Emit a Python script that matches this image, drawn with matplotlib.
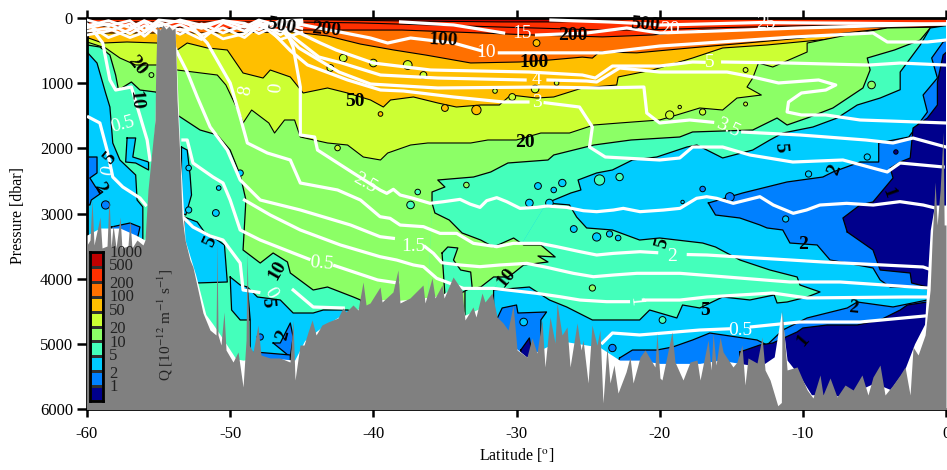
import numpy as np
import matplotlib
matplotlib.use("Agg")
import matplotlib.pyplot as plt

plt.rcParams['font.family'] = ['Liberation Serif', 'DejaVu Serif']
plt.rcParams['mathtext.fontset'] = 'stix'
plt.rcParams['axes.unicode_minus'] = False

nan = np.nan

# class colours, lowest to highest
class_colors = ['#00008c', '#0080ff', '#00ccff', '#44ffbb', '#8cff66',
                '#ccff33', '#ffbf00', '#ff7000', '#ff3000', '#c00000']
NAVY, BLUE, CYAN, MINT, GREEN, LIME, AMBER, ORANGE, RED, DARK = class_colors
bar_labels = ['1', '2', '5', '10', '20', '50', '100', '200', '500', '1000']
bar_label_y = [387, 374, 356, 343, 329, 311, 297, 284, 266, 253]

# depth of the Q isolines, upper ocean
q1000_lat = [-60, -48, -38, -31, -27, -21, 0]
q1000_p = [0, 15, 45, 60, 60, 15, 0]
q500_lat = [-60, -46, -41, -34, -28.5, -24, -21, -17, -10, 0]
q500_p = [60, 60, 75, 120, 155, 185, 185, 155, 120, 105]
q200_lat = [-60, -46, -38, -32.5, -29, -24, -20.5, -17, -10, -4, 0]
q200_p = [120, 185, 185, 230, 260, 290, 260, 185, 155, 140, 140]
q100_lat = [-60, -52.1, -45.6, -43.2, -40.9, -38.6, -36.3, -33.2, -29.8, -27.7, -25.4, -24.7, -24.2, -21.6, -17.9, -14, -10.2, -4, 0]
q100_p = [230, 230, 215, 275, 400, 490, 570, 690, 675, 645, 600, 615, 520, 535, 460, 385, 310, 155, 140]
q50_lat = [-59.9, -58.9, -57.2, -55.1, -53.7, -53, -51.6, -50.2, -49.1, -47.7, -47.2, -45.8, -44.9, -43.2, -41.8, -40.2, -39.3, -38.8, -37.2, -35.5, -34.2, -32.5, -31.2, -30.4, -28.6, -27.4, -25.4, -23, -22.9, -20.5, -17.7, -15.6, -12.5, -7.4, -4.1, 0]
q50_p = [307, 384, 368, 384, 491, 384, 460, 491, 844, 921, 798, 905, 1151, 1074, 1151, 1258, 1366, 1258, 1212, 1304, 1366, 1335, 1335, 1182, 1228, 1212, 1074, 1028, 905, 798, 614, 460, 414, 307, 153, 138]
q20_lat = [-60, -58.7, -57.7, -56.6, -55.1, -53.7, -50.9, -50.3, -49.3, -49.1, -48.5, -47.3, -46.9, -46.2, -45.5, -45.1, -43.2, -41.8, -40.7, -39.5, -39, -37.4, -36.2, -34.6, -33.2, -32, -30, -28.3, -26.3, -24.6, -22.8, -20, -18.8, -17.2, -15.6, -14.6, -12.9, -13.9, -13.5, -13.1, -12.1, -9.7, -9.7, -6.9, -4.1, 0]
q20_p = [368, 460, 614, 721, 721, 798, 875, 1028, 1488, 1611, 1412, 1611, 1765, 1565, 1565, 1826, 1918, 1949, 2133, 2179, 2072, 1949, 1918, 1918, 1918, 1872, 1872, 1765, 1765, 1642, 1611, 1565, 1488, 1381, 1412, 1228, 1182, 1059, 921, 691, 752, 522, 384, 261, 153, 138]
q10w_lat = [-60, -59.1, -58.4, -58, -57.8, -56.9, -56.3, -55.2, -53.7, -52.1, -50.9, -50, -49.3, -48.9, -49.1, -47.9, -47, -46, -45.8, -44.2, -43.2, -41.4, -40.9, -40]
q10w_p = [414, 445, 568, 875, 1105, 982, 1105, 1136, 1488, 1719, 1795, 2026, 2409, 2793, 3560, 3760, 3606, 3744, 3913, 4174, 4128, 4281, 4327, 4941]
q10e_lat = [-36.3, -35.9, -35.9, -35, -35.5, -33, -31.8, -30.6, -27.8, -27.4, -24.6, -22, -18.6, -17.7, -13.5, -11.8, -11.1, -9.7, -7.9, -5.8, -5.3, -5.5, -3.6, -1.8, -1.1, 0]
q10e_p = [4941, 2839, 2670, 2593, 2486, 2440, 2363, 2225, 2179, 2102, 1949, 1872, 1826, 1749, 1719, 1535, 1642, 1535, 1381, 1074, 798, 614, 491, 338, 153, 138]

# lens of 10-20 water south of the eastern tongue
lens_lat = [-35.9, -35.7, -34.7, -33.8, -32.5, -31.6, -30.2, -29.5, -28.3, -27.3, -28.5, -27.8, -29.5, -30.2, -30.6, -31.6, -32.5, -33.6, -33.6, -36.3]
lens_p = [2839, 2992, 3100, 3299, 3407, 3514, 3376, 3483, 3483, 3667, 3652, 3744, 3790, 3913, 3974, 3974, 4128, 4174, 4941, 4941]
mint_patch_lat = [-35.2, -34.8, -34.1, -34.4, -33.9, -33.2, -33.1, -34.1, -35, -35.2]
mint_patch_p = [3606, 3514, 3529, 3714, 3867, 3898, 4128, 4250, 4250, 3606]

# low Q water in the east
cyan_upper_lat = [-27.9, -26.2, -25.5, -25.7, -24.4, -23.3, -23.3, -21.9, -20.2, -18.1, -17.4, -15.6, -13.5, -12.3, -11.4, -9.3, -7.6, -6.2, -4.6, -3.2, -3.2, -1.8, -1.1, 0.2, 0.2, -31.6, -31.6]
cyan_upper_p = [2839, 2685, 2639, 2486, 2378, 2332, 2332, 2179, 2133, 1980, 1949, 2148, 2026, 1872, 1765, 1673, 1535, 1335, 1228, 1100, 829, 414, 153, 110, 6000, 6000, 4174]
tongue_lat = [-27.9, -26.3, -25.8, -25.1, -23.3, -21.4, -20, -17, -16.1, -14.4, -12.3, -10.4, -10.2, -8.8, -9.7, -11.1, -11.8, -12, -13.7, -15.6, -17.2, -18.4, -18.8, -20.7, -21.4, -23.3, -24.7, -26.5, -27.7, -29.1, -31.6]
tongue_p = [2839, 2869, 3054, 3222, 3253, 3407, 3376, 3453, 3514, 3713, 3867, 3974, 4097, 4204, 4281, 4358, 4373, 4250, 4327, 4281, 4450, 4404, 4603, 4481, 4634, 4634, 4634, 4434, 4327, 4128, 4174]
blue_upper_lat = [-16.6, -14.2, -11.1, -8.6, -7.9, -6, -4.7, -4.7, -2.6, -1.3, -1.6, -0.6, -1, -0.2, 0.2, 0.2, -1.3, -2.5, -3.9, -4.6, -5.1, -8.1, -9, -10.9, -11.4, -12.5, -13, -14.4, -16.1, -16.6]
blue_upper_p = [2839, 2685, 2516, 2440, 2363, 2210, 2210, 1918, 1826, 1443, 1182, 921, 614, 368, 338, 4204, 4158, 4128, 4128, 4020, 3836, 3713, 3483, 3453, 3253, 3222, 3176, 3069, 3023, 2839]
navy_upper_lat = [-6.9, -7.2, -6, -5.1, -3.7, -3.9, -3.2, -2.5, -2.3, -1.3, -0.6, -0.6, -0.2, 0.2, 0.2, -1.3, -2.4, -2.5, -4.6, -5.1, -6.9]
navy_upper_p = [3284, 3069, 2869, 2823, 2455, 2302, 2210, 2148, 1688, 1535, 1335, 982, 568, 491, 4174, 4128, 4066, 3913, 3867, 3560, 3284]
blue_low_lat = [-22.8, -21.9, -20.2, -19.1, -17.7, -16.5, -13.2, -12.5, -11.4, -9.7, -6.9, -6.2, -3.7, -1.3, 0.2, 0.2, -24.2, -22.8]
blue_low_p = [5217, 5095, 5095, 5049, 4941, 4834, 4941, 5018, 4788, 4603, 4450, 4358, 4434, 4327, 4296, 6000, 6000, 5217]
navy_low_lat = [-14.4, -13, -12.1, -10.4, -10, -8.3, -6.2, -4.6, -3.2, -2.7, -1.3, 0.2, 0.2, -14.4, -14.4]
navy_low_p = [5125, 5018, 4987, 4818, 4757, 4711, 4711, 4634, 4481, 4404, 4358, 4327, 6000, 6000, 5125]
blue_mid_lat = [-31.4, -31, -30, -29.9, -27.9, -28.3, -28.3, -31.4, -31.4]
blue_mid_p = [4634, 4450, 4404, 4527, 4511, 4634, 5432, 5432, 4634]
navy_mid_lat = [-29.7, -29.1, -28.9, -29.3, -29.7, -29.7]
navy_mid_p = [5095, 4910, 5171, 5371, 5371, 5095]

# low Q water west of 40S
cyan_west_lat = [-60.2, -60, -59.3, -59.1, -58.7, -58.4, -58.2, -57.7, -56.6, -56.5, -56.1, -56.1, -60.2]
cyan_west_p = [522, 522, 691, 844, 1151, 1366, 1918, 2179, 2409, 2793, 2900, 3713, 3713]
blue_wa_lat = [-60.1, -59.3, -59.3, -59.8, -59.4, -58.9, -59.7, -59.8, -60.1]
blue_wa_p = [2133, 2133, 2378, 2455, 2593, 2670, 2793, 2869, 2869]
blue_wb_lat = [-58.3, -57, -56.3, -56.5, -58.3, -58.3]
blue_wb_p = [3207, 3146, 3207, 3407, 3407, 3207]
cyan_wc_lat = [-57.2, -56.6, -56.8, -55.7, -55.7, -56.6, -57.3, -57.2]
cyan_wc_p = [1841, 1841, 2133, 2210, 2332, 2225, 2210, 1841]
cyan_r1_lat = [-53.4, -53, -52.8, -52.7, -53.1, -53.4, -53.4]
cyan_r1_p = [1980, 2026, 2409, 2716, 3023, 2992, 1980]
cyan_r2_lat = [-53.2, -52.3, -51.8, -51.1, -50.4, -50.2, -52.3, -52.8, -53.2, -53.2]
cyan_r2_p = [3054, 3130, 3284, 3376, 3483, 4051, 4066, 4174, 4174, 3054]
cyan_r3_lat = [-50, -49.3, -48.8, -48.6, -49.3, -49.9, -50]
cyan_r3_p = [3974, 4097, 4128, 4634, 4634, 4481, 3974]
cyan_r4_lat = [-48.8, -48.1, -46.5, -45.6, -44.2, -43.5, -41.8, -41.3, -41.3, -48.6, -48.6, -48.8]
cyan_r4_p = [4128, 4281, 4327, 4527, 4527, 4481, 4481, 4511, 6000, 6000, 4634, 4128]
blue_r1_lat = [-47, -46.5, -45.8, -45.6, -45.8, -47]
blue_r1_p = [4987, 4987, 4680, 4895, 5202, 4987]
blue_r2_lat = [-48.3, -45.8, -45.8, -48.3, -48.3]
blue_r2_p = [5125, 5171, 5325, 5325, 5125]

# small closed Q contours
blob_lat = [-28.5, -29.1, -27.7, -26.8, -27.4, -24.2, -22.8, -24.4, -23.5, -22.9, -33.5, -36.9, -37.4, -24.7, -26, -29.5, -23.3, -19.8,
            -14, -14, -18.6, -17, -19.3, -5.2, -9.6, -17, -18.4, -15.1, -11.2, -5.5, -3.5,
            -28.6, -35, -32.8, -39.5,
            -31.5, -30.3, -40, -37.6, -36.5, -28.7, -27.2, -43, -42.1, -42.5, -55.5,
            -51, -52.9, -50.8, -52.9, -49.3, -47.9, -58.7]
blob_p = [2578, 2839, 2839, 2532, 2639, 2486, 2440, 3360, 3314, 3376, 2563, 2670, 2869, 4143, 3238, 4665, 5064, 4634,
          798, 1320, 1366, 1442, 1488, 1028, 2394, 2624, 2823, 2747, 3084, 2133, 2056,
          384, 1381, 1412, 1473,
          1120, 1212, 691, 721, 875, 1090, 997, 767, 614, 1995, 875,
          2992, 2946, 2609, 2302, 2379, 4895, 2869]
blob_colors = [CYAN, CYAN, CYAN, CYAN, CYAN, MINT, MINT, CYAN, CYAN, CYAN, GREEN, MINT, MINT, GREEN, CYAN, CYAN, BLUE, MINT,
               LIME, LIME, LIME, LIME, LIME, GREEN, CYAN, BLUE, CYAN, BLUE, CYAN, CYAN, NAVY,
               AMBER, AMBER, AMBER, AMBER,
               LIME, LIME, LIME, LIME, LIME, LIME, LIME, LIME, LIME, LIME, GREEN,
               CYAN, CYAN, CYAN, CYAN, CYAN, BLUE, BLUE]
blob_sizes = [24, 30, 30, 28, 16, 55, 28, 35, 20, 16, 16, 16, 30, 20, 24, 30, 28, 24,
              12, 8, 6, 20, 35, 30, 20, 16, 6, 40, 20, 20, 10,
              24, 24, 45, 11,
              11, 24, 30, 40, 24, 30, 11, 24, 30, 16, 12,
              24, 20, 11, 16, 20, 20, 35]

# temperature isotherms
t25_lat = [-46.2, -45.6, -45.1, -45.1, -44.1, -43.9, -41.4,
           -39.53, -39.06, -38.6, -38.13, -37.2, -36.04, -35.1, -33.94, -33.25, -32.55, -32.08, -31.38, -30.68, -29.75, -28.59, -27.89, -26.49, -25.33, -24.4, -23.23, -22.54, -21.37, -19.74,
           -18.58, -18, -17.42, -16.72, -16.02, -14.86, -13.93, -13, -12.06, -10.67, -9.74, -8.81, -6.94, -5.08, -3.22, -1.59, -0.19]
t25_p = [153, 445, 1059, 1795, 1826, 2026, 2379,
         2640, 2691, 2629, 2716, 2768, 2844, 2819, 2783, 2855, 2906, 2803, 2757, 2819, 2921, 2906, 2885, 2906, 2957, 2972, 2947, 2921, 2972, 2947,
         2921, 2844, 2767, 2742, 2767, 2844, 2793, 2742, 2870, 2997, 2946, 2870, 2844, 2870, 2818, 2870, 2946]
t2_lat = [-52.8, -51.6, -50, -49.3, -48.8, -47.4, -45.8, -45.1, -42.5, -40.9,
          -39.53, -38.83, -38.13, -36.5, -35.34, -34.18, -33.01, -31.38, -30.22, -28.36, -27.19, -25.56, -24.4, -23.23, -21.37, -20.21, -19.8, -18, -16.7, -10.9, -8.6, -1.6, -1]
t2_p = [107, 384, 997, 1519, 1918, 2072, 2179, 2532, 2639, 2793,
        3049, 3074, 3177, 3202, 3305, 3305, 3458, 3509, 3458, 3458, 3509, 3586, 3637, 3612, 3586, 3601, nan, 3630, 3637, 3713, 3744, 3821, 3867]
t15_lat = [-54.5, -53, -52.3, -51.4, -50.2, -49.3, -47.9, -45.1, -41.6,
           -39.53, -38.6, -37.5, -36.39, -35.8, -35.22, -33.94, -32.55, -31.15, -29.29, -27.89, -26.03, -24.63, -23.23, -21.6, -18.58, -10.9, -7.4, -1.3]
t15_p = [184, 829, 1212, 1672, 2026, 2486, 2793, 2946, 3176,
         3356, 3381, nan, 3509, 3612, 3755, 3790, 3816, 3790, 3765, 3826, 3918, 3970, 3944, 3918, 3918, 4051, 4051, 4143]
t1_lat = [-49, -47.2, -45.1, -42.3,
          -39.53, -38.37, -37.2, -36.5, -35.57, -33.71, -31.61, -28.59, -26.96, -25.56, -23.7, -22.18, -21.7, -21.14, -18.58, -16.7, -12.1, -9.7, -2.8, -1.3]
t1_p = [2793, 3023, 3253, 3483,
        3663, 3714, 3790, 3816, 3995, 4149, 4149, 4225, 4277, 4328, 4353, 4353, nan, 4328, 4328, 4281, 4220, 4296, 4281, 4281]
t05a_lat = [-59.9, -59.1, -58.6, -58.2, -57.5, -56.3, -55.9]
t05a_p = [1519, 1611, 2026, 2440, 2593, 2762, 2869]
t05b_lat = [-59.6, -58.9, -58.4, -58, -56.9, -55.8, -55.6]
t05b_p = [184, 384, 951, 1105, 1059, 1872, 2179]
t05c_lat = [-53.3, -53, -52.6, -51.2, -50.5, -50, -49.3, -47.9, -45.6, -44.5, -43.6, -42.7, -39.7, -38.3]
t05c_p = [1872, 1872, 2225, 2440, 2532, 2793, 3253, 3407, 3606, 3700, nan, 3800, 4020, 4066]
t05d_lat = [-53.3, -52.6, -51.4, -50.5, -49.3, -49.1, -48, -47.2, -45.6, -44.2, -42.1]
t05d_p = [3054, 3207, 3345, 3407, 3760, 4174, 4210, nan, 4174, 4435, 4450]
t05e_lat = [-24, -23.3, -21.4, -17.2, -15.2, -14.4, -13.6, -12.3, -10.2, -6, -1.5]
t05e_p = [4987, 4834, 4864, 4788, 4770, nan, 4740, 4711, 4665, 4665, 4573]
t3_lat = [-47, -45.8, -44.6, -41.8, -39.5, -37.9, -34.4, -30.9, -29.2, -28.6, -28, -25.6, -24.7, -24.9, -23.8, -20, -18.6, -17.7, -15.6, -13.7, -10.7, -7.2, -4.1, -3.2, -0.2]
t3_p = [230, 500, 720, 951, 1105, 1120, 1212, 1289, 1289, nan, 1300, 1366, 1672, 1980, 2133, 2179, 2148, 1980, 1980, 2102, 2210, 2179, 2363, 2225, 2286]
t35_lat = [-46.4, -45.2, -42.4, -40.2, -35.5, -28.2, -24.2, -21.1, -20.9, -20, -17.9, -16.3, -15.2, -14.2, -10.2, -5.6, -3.7, -2.3, 0]
t35_p = [184, 460, 829, 1013, 1074, 1059, 1074, 1059, 1458, 1611, 1565, 1600, nan, 1750, 1795, 1872, 1918, 1842, 1980]
t4_lat = [-46.5, -45.6, -43.8, -42.2, -39.5, -35.5, -29.4, -28.6, -27.8, -25.1, -24.4, -22.8, -20, -17.7, -15.3, -13.5, -11.7, -8.9, -7.7, -8.4, -10.1, -11, -11.1, -10.1, -8.4, -6, 0]
t4_p = [153, 292, 599, 691, 875, 921, 951, nan, 951, 967, 982, 767, 829, 829, 829, 905, 997, 951, 1028, 1105, 1151, 1289, 1442, 1488, 1488, 1565, 1611]
t5_lat = [-46.1, -45.6, -43.7, -42.6, -40, -36, -29.1, -25.4, -24.5, -23.3, -20, -17.7, -16.9, -16.1, -15.6, -11, -5.4, -3.2, 0]
t5_p = [77, 184, 384, 491, 691, 798, 829, 875, 921, 737, 737, 675, 680, nan, 675, 691, 722, 691, 722]
t10_lat = [-48, -45.5, -40.2, -39, -37.4, -34.4, -32.5, -32, -31.2, -28.6, -24, -20, -17.9, -10.7, -5.1, -4.1, -1.3, 0]
t10_p = [100, 80, 307, 384, 307, 384, 500, nan, 535, 535, 535, 430, 400, 292, 230, 368, 368, 338]
t15s_lat = [-38.1, -34.4, -30.9, -29.6, -28.6, -25.1, -22.3, -20, -10.2, 0]
t15s_p = [60, 107, 230, nan, 261, 230, 153, 230, 153, 90]
t20_lat = [-27.6, -23.5, -20.7, -20, -17, -13, -7, 0]
t20_p = [31, 61, 92, 108, 92, 70, 80, 92]

# jumble of isotherms outcropping near the surface in the south
surf_lat = [-60, -58.5, -57, -56, -55, -53.5, -52, -50.5, -49, -48, -46.5, -45]
surf_a_p = [150, 90, 240, 120, 210, 100, 260, 150, 300, 120, 200, 100]
surf_b_p = [260, 200, 90, 280, 100, 250, 90, 230, 110, 240, 90, 160]
surf_c_p = [90, 300, 180, 60, 250, 170, 330, 70, 200, 60, 260, 60]
surf_d_p = [30, 120, 40, 200, 30, 60, 160, 40, 80, 180, 40, 30]
surf_e_p = [120, 40, 150, 40, 130, 30, 110, 40, 140, 30, 120, 50]
surf_f_p = [200, 160, 300, 220, 60, 190, 130, 320, 240, 80, 330, 220]

# sea floor: grey profile with its spikes, in three stretches
floor_w_lat = [-60.0, -59.79, -59.65, -59.51, -59.09, -58.95, -58.6, -58.46, -58.32, -58.18,
               -57.97, -57.69, -57.56, -57.14, -57.0, -56.86, -56.51, -56.09, -55.95, -55.74,
               -55.53, -55.25, -55.2, -55.11, -54.9, -54.69, -54.48, -54.27, -54.06, -53.85,
               -53.78, -53.71, -53.57, -53.5, -53.36, -53.15, -52.81, -52.6, -52.25, -51.9,
               -51.41, -50.99, -50.92, -50.85, -50.64, -50.43, -50.29, -49.8, -49.45, -49.1,
               -48.89, -48.82, -48.68, -48.4, -48.06, -47.85, -47.22, -46.52, -45.82, -45.61,
               -45.47, -45.12, -44.84, -44.56, -44.28, -44.0, -43.59, -43.17, -42.47, -42.12]
floor_w_p = [3483, 3407, 2793, 3483, 3054, 3529, 3499, 2747, 3529, 3176,
             3529, 3054, 3529, 3499, 3100, 3529, 3407, 3483, 3407, 2639,
             2179, 1565, 798, 138, 184, 107, 169, 123, 184, 153,
             644, 1258, 1872, 2179, 3054, 3407, 3713, 3821, 4174, 4527,
             4788, 4864, 3407, 4864, 5018, 4511, 5095, 5279, 5125, 5662,
             4941, 3606, 5018, 5125, 4711, 5171, 5217, 5217, 5279, 4634,
             5555, 5018, 5018, 4818, 4634, 4864, 4711, 4665, 4603, 4450]
floor_m_lat = [-41.91, -41.42, -41.07, -40.72, -40.51, -40.23, -39.53, -39.39, -38.63, -38.28,
               -38.14, -37.44, -36.53, -36.39, -35.9, -35.69, -35.2, -35.06, -34.43, -33.81,
               -33.6, -33.25, -33.04, -32.83, -32.41, -32.2, -31.71, -31.36, -30.94, -30.59,
               -30.24, -29.96, -29.27, -28.92, -28.57, -28.22, -28.01, -27.66, -27.31, -27.17,
               -26.82, -26.47, -26.26, -25.77, -25.49, -25.35, -25.0, -24.73, -24.38, -24.17,
               -23.96, -23.68, -23.47, -23.19, -22.91, -22.35, -22.07, -21.86, -21.37, -21.02,
               -20.33, -20.19, -19.98]
floor_m_p = [4511, 4404, 4481, 4051, 4404, 4373, 4128, 4358, 4204, 3867,
             4373, 4296, 4097, 4373, 3990, 4297, 4097, 4297, 3974, 4174,
             4634, 4511, 4434, 4588, 4220, 4358, 4220, 4588, 4680, 4788,
             4404, 5095, 5202, 4910, 5141, 4634, 5355, 4588, 4987, 4373,
             4864, 4741, 5355, 4680, 5095, 4941, 5601, 4711, 5018, 4788,
             5908, 5049, 5601, 5325, 5755, 5432, 5202, 5601, 5202, 5095,
             5355, 4834, 5524]
floor_e_lat = [-19.84, -19.14, -18.93, -18.37, -17.88, -17.39, -17.18, -16.62, -16.41, -16.27,
               -16.06, -15.78, -15.57, -14.88, -14.6, -14.25, -14.04, -13.83, -13.2, -12.85,
               -12.64, -12.29, -11.75, -11.5, -11.45, -11.1, -10.4, -9.7, -9.29, -8.8,
               -8.59, -8.1, -7.61, -7.05, -6.49, -5.87, -5.45, -5.1, -4.61, -4.26,
               -3.7, -3.21, -2.86, -2.51, -2.3, -1.95, -1.46, -1.11, -0.97, -0.76,
               -0.62, -0.41, -0.2, -0.13, 0]
floor_e_p = [5555, 4818, 5279, 5555, 5279, 5248, 5555, 4941, 5402, 4834,
             5325, 4895, 5125, 5355, 5279, 5018, 5632, 5217, 5294, 4895,
             5402, 5555, 5950, 5900, 4481, 5401, 5355, 5708, 5831, 5478,
             5785, 5524, 5816, 5632, 5708, 5478, 5785, 5509, 5325, 5785,
             5632, 5478, 5355, 5785, 5049, 5171, 4864, 4174, 3407, 2516,
             3176, 2639, 1750, 3176, 3176]
white_lat = [-60, -59.1, -57.7, -56.6, -55.95, -55.6, -55.25, -55.11, -53.85, -53.5, -53.15, -52.4, -51.7, -51.2, -50.7, -49.6, -49.1, -47.9, -46.5, -45.5, -44.8, -43.7, -42.3, -40.9, -39.5, -38.1, -36.7, -35.3, -34.3, -33.6, -32.5, -31.5, -30.4, -29.3, -28.4, -27, -25.6, -24.2, -22.8, -21.4, -20, -18.6, -17.2, -15.8, -14.4, -13, -12, -11.5, -11.1, -10.2, -9.4, -7.4, -6, -5, -3.9, -2.9, -2.2, -1.5, -1.1, -0.8, 0]
white_p = [3330, 3223, 3223, 3330, 3407, 2793, 1565, 184, 184, 2026, 3407, 3950, 4550, 4700, 4860, 5230, 5250, 5220, 5230, 5250, 4950, 4760, 4570, 4450, 4320, 4330, 4300, 4260, 4120, 4560, 4450, 4550, 5000, 5200, 5100, 4950, 5000, 5050, 5250, 5250, 5300, 5300, 5300, 5250, 5300, 5350, 5200, 4510, 5250, 5500, 5780, 5800, 5700, 5600, 5700, 5400, 5000, 4700, 3253, 2870, 2870]

# contour labels
black_labels = ['500', '200', '100', '200', '500', '100', '50', '20', '20', '10', '5', '2', '5', '10', '5', '2', '10', '5', '5', '2', '2', '2', '5', '1', '1']
black_lat = [-46.4, -43.3, -35.1, -26.1, -21, -28.8, -41.3, -29.4, -56.5, -56.6, -58.4, -59.1, -51.4, -46.7, -47.4, -46.3, -30.7, -11.6, -19.8, -10, -7.8, -6.5, -16.8, -4, -10]
black_p = [123, 184, 338, 276, 107, 690, 1274, 1918, 737, 1258, 2148, 2609, 3437, 3867, 4358, 4864, 3990, 1980, 3453, 3483, 2332, 4450, 4481, 2685, 4941]
black_rot = [-10, -5, -3, 0, -5, 0, 0, 0, -50, -85, 50, -60, 65, 60, -85, 75, 50, -85, 75, 0, 70, -5, 0, -70, 50]
white_labels = ['2.5', '3', '4', '10', '15', '20', '25', '5', '3.5', '2', '1.5', '1', '0.5', '0.5', '0.5', '0', '0', '8', '0']
white_label_lat = [-40.6, -28.6, -28.6, -32.1, -29.6, -19.3, -12.6, -16.5, -15.2, -19.1, -37.2, -21.7, -14.4, -43.6, -57.5, -58.5, -47.2, -48.9, -46.8]
white_label_p = [2532, 1304, 951, 522, 245, 184, 77, 690, 1688, 3667, 3514, 4358, 4788, 3775, 1642, 2332, 4220, 1105, 1074]
white_rot = [-30, 0, 0, 0, 0, 0, 0, 0, -25, 0, 0, -85, 0, -5, 15, 80, -60, 80, 85]

x_ticks = [-60, -50, -40, -30, -20, -10, 0]
y_ticks = [0, 1000, 2000, 3000, 4000, 5000, 6000]

W, H = 947, 470
fig = plt.figure(figsize=(W / 100, H / 100), dpi=100)
ax = fig.add_axes([87 / W, (H - 409) / H, 859 / W, 391 / H])
ax.set_facecolor(DARK)


def fill_below(lat, p, color, z=1):
    # paint everything under an isoline down to the axes floor
    lat = list(lat)
    p = list(p)
    ax.fill(lat + [lat[-1], lat[0]], p + [6100, 6100], color=color, lw=0, zorder=z)
    ax.plot(lat, p, color='k', lw=0.8, zorder=z)


def region(lat, p, color, z=2):
    # the closing edge is not outlined, so it can sit under other patches
    ax.fill(lat, p, color=color, lw=0, zorder=z)
    ax.plot(lat, p, color='k', lw=0.9, zorder=z)


ax.fill_between([-60, 0], 0, 6000, color=DARK, lw=0, zorder=0)
fill_below(q1000_lat, q1000_p, RED)
fill_below(q500_lat, q500_p, RED)
fill_below(q200_lat, q200_p, ORANGE)
fill_below(q100_lat, q100_p, AMBER)
fill_below(q50_lat, q50_p, LIME)
fill_below(q20_lat, q20_p, GREEN)

q10_lat = q10w_lat + q10e_lat
q10_p = q10w_p + q10e_p
ax.fill(q10_lat + [0, -60], q10_p + [6100, 6100], color=MINT, lw=0, zorder=1)
ax.plot(q10w_lat, q10w_p, color='k', lw=0.9, zorder=1)
ax.plot(q10e_lat[1:], q10e_p[1:], color='k', lw=0.9, zorder=1)

for lat, p, col in [(cyan_upper_lat, cyan_upper_p, CYAN),
                    (tongue_lat, tongue_p, MINT),
                    (lens_lat, lens_p, GREEN),
                    (mint_patch_lat, mint_patch_p, MINT),
                    (blue_upper_lat, blue_upper_p, BLUE),
                    (navy_upper_lat, navy_upper_p, NAVY),
                    (blue_low_lat, blue_low_p, BLUE),
                    (navy_low_lat, navy_low_p, NAVY),
                    (blue_mid_lat, blue_mid_p, BLUE),
                    (navy_mid_lat, navy_mid_p, NAVY),
                    (cyan_west_lat, cyan_west_p, CYAN),
                    (blue_wa_lat, blue_wa_p, BLUE),
                    (blue_wb_lat, blue_wb_p, BLUE),
                    (cyan_wc_lat, cyan_wc_p, CYAN),
                    (cyan_r1_lat, cyan_r1_p, CYAN),
                    (cyan_r2_lat, cyan_r2_p, CYAN),
                    (cyan_r3_lat, cyan_r3_p, CYAN),
                    (cyan_r4_lat, cyan_r4_p, CYAN),
                    (blue_r1_lat, blue_r1_p, BLUE),
                    (blue_r2_lat, blue_r2_p, BLUE)]:
    region(lat, p, col)

ax.scatter(blob_lat, blob_p, s=blob_sizes, c=blob_colors, edgecolors='k', linewidths=0.7, zorder=3)

# isotherms
for lat, p in [(t25_lat, t25_p), (t2_lat, t2_p), (t15_lat, t15_p), (t1_lat, t1_p),
               (t05a_lat, t05a_p), (t05b_lat, t05b_p), (t05c_lat, t05c_p),
               (t05d_lat, t05d_p), (t05e_lat, t05e_p), (t3_lat, t3_p),
               (t35_lat, t35_p), (t4_lat, t4_p), (t5_lat, t5_p), (t10_lat, t10_p),
               (t15s_lat, t15s_p), (t20_lat, t20_p)]:
    ax.plot(lat, p, color='white', lw=2.3, solid_joinstyle='round', zorder=4)
for p in [surf_a_p, surf_b_p, surf_c_p, surf_d_p, surf_e_p, surf_f_p]:
    ax.plot(surf_lat, p, color='white', lw=2.0, zorder=4)

# sea floor
floor_lat = floor_w_lat + floor_m_lat + floor_e_lat
floor_p = floor_w_p + floor_m_p + floor_e_p
ax.fill_between(white_lat, white_p, 6100, color='white', lw=0, zorder=5)
ax.fill_between(floor_lat, floor_p, 6100, color='#808080', lw=0, zorder=6)

for txt, lat, p, rot in zip(black_labels, black_lat, black_p, black_rot):
    ax.text(lat, p, txt, color='k', fontsize=14, fontweight='bold', rotation=rot,
            ha='center', va='center', zorder=7)
for txt, lat, p, rot in zip(white_labels, white_label_lat, white_label_p, white_rot):
    ax.text(lat, p, txt, color='white', fontsize=14, rotation=rot,
            ha='center', va='center', zorder=7)

ax.set_xlim(-60, 0)
ax.set_ylim(6000, 0)
ax.set_xticks(x_ticks)
ax.set_yticks(y_ticks)
ax.tick_params(axis='x', which='both', top=True, bottom=True, length=6, width=1.8, labelsize=12, pad=6)
ax.tick_params(axis='y', length=7, width=1.8, labelsize=12, pad=3)
for side in ['top', 'bottom', 'left']:
    ax.spines[side].set_linewidth(2)
ax.spines['right'].set_visible(False)
ax.set_xlabel('Latitude [$^{\\rm o}$]', fontsize=11.5, labelpad=3)
fig.text(18 / W, 1 - 215 / H, 'Pressure [dbar]', rotation=90, fontsize=11.5, ha='center', va='center')

# colour bar
cax = fig.add_axes([90 / W, (H - 401) / H, 13 / W, 149 / H], zorder=10)
cax.pcolormesh(np.arange(2), np.arange(len(class_colors) + 1),
               np.arange(len(class_colors)).reshape(-1, 1),
               cmap=matplotlib.colors.ListedColormap(class_colors),
               edgecolors='#303030', linewidth=0.8)
cax.set_xticks([])
cax.set_yticks([])
for s in cax.spines.values():
    s.set_linewidth(2)
for txt, y in zip(bar_labels, bar_label_y):
    fig.text(109 / W, 1 - y / H, txt, fontsize=12, color='#222222', ha='left', va='center', zorder=11)
fig.text(165 / W, 1 - 325 / H, 'Q [10$^{-12}$ m$^{-1}$ s$^{-1}$]', rotation=90, fontsize=11,
         color='#222222', ha='center', va='center', zorder=11)

fig.savefig('out.png', dpi=100)
